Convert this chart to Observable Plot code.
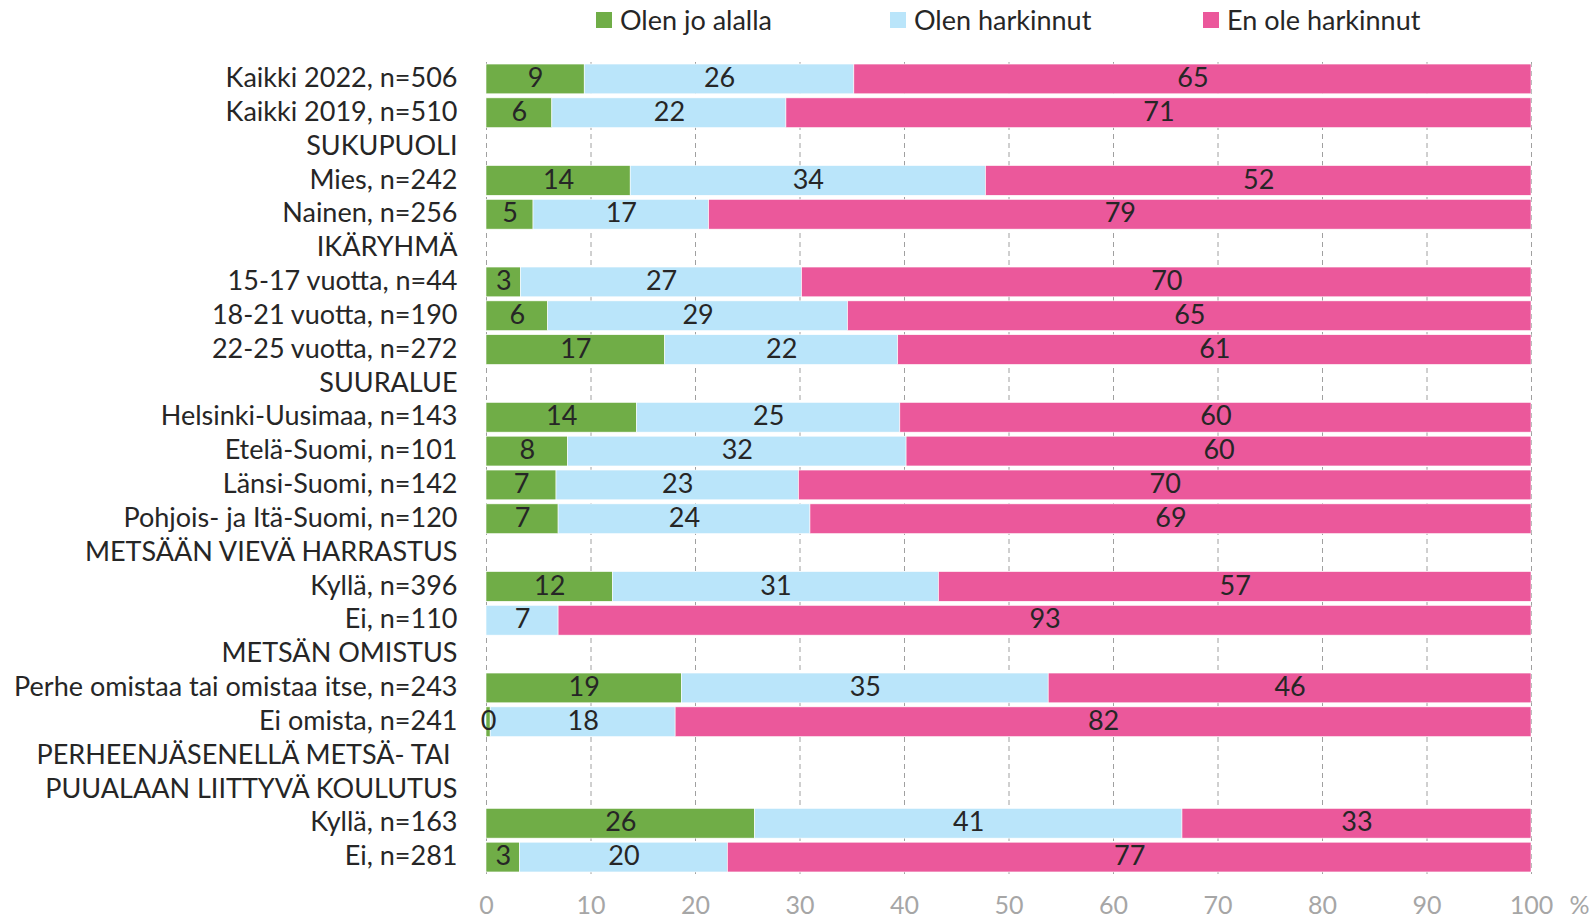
<!DOCTYPE html>
<html>
<head>
<meta charset="utf-8">
<script src="https://cdn.jsdelivr.net/npm/d3@7"></script>
<script src="https://cdn.jsdelivr.net/npm/@observablehq/plot@0.6"></script>
<style>
  html, body { margin: 0; padding: 0; background: #fff; }
  #wrap { position: relative; width: 1591px; height: 920px; font-family: Lato, "Open Sans", sans-serif; }
  #legend { position: absolute; top: 0; left: 0; width: 1591px; height: 40px; }
  .item { position: absolute; top: 5px; display: flex; align-items: center; font-size: 27px; color: #262626; line-height: 30px; }
  .sw { width: 16px; height: 16px; margin-right: 8px; }
  #chart { position: absolute; top: 0; left: 0; }
</style>
</head>
<body>
<div id="wrap">
  <div id="chart"></div>
  <div id="legend"></div>
</div>
<script>
const rows = [
  "Kaikki 2022, n=506",
  "Kaikki 2019, n=510",
  "SUKUPUOLI",
  "Mies, n=242",
  "Nainen, n=256",
  "IKÄRYHMÄ",
  "15-17 vuotta, n=44",
  "18-21 vuotta, n=190",
  "22-25 vuotta, n=272",
  "SUURALUE",
  "Helsinki-Uusimaa, n=143",
  "Etelä-Suomi, n=101",
  "Länsi-Suomi, n=142",
  "Pohjois- ja Itä-Suomi, n=120",
  "METSÄÄN VIEVÄ HARRASTUS",
  "Kyllä, n=396",
  "Ei, n=110",
  "METSÄN OMISTUS",
  "Perhe omistaa tai omistaa itse, n=243",
  "Ei omista, n=241",
  "PERHEENJÄSENELLÄ METSÄ- TAI\u00a0",
  "PUUALAAN LIITTYVÄ KOULUTUS",
  "Kyllä, n=163",
  "Ei, n=281"
];
const seriesNames = ["Olen jo alalla", "Olen harkinnut", "En ole harkinnut"];
const seriesColors = ["#70ad47", "#bae5fa", "#eb589b"];
const olenJoAlalla    = [9.4, 6.3, null, 13.8, 4.5, null, 3.3, 5.9, 17.1, null, 14.4, 7.8, 6.7, 6.9, null, 12.1, 0, null, 18.7, 0.4, null, null, 25.7, 3.2];
const olenHarkinnut   = [25.8, 22.4, null, 34.0, 16.8, null, 26.9, 28.7, 22.3, null, 25.2, 32.4, 23.2, 24.1, null, 31.2, 6.9, null, 35.1, 17.7, null, null, 40.9, 19.9];
const enOleHarkinnut  = [64.8, 71.3, null, 52.2, 78.7, null, 69.8, 65.4, 60.6, null, 60.4, 59.8, 70.1, 69.0, null, 56.7, 93.1, null, 46.2, 81.9, null, null, 33.4, 76.9];
const xTicks = [0, 10, 20, 30, 40, 50, 60, 70, 80, 90, 100];

const seriesValues = [olenJoAlalla, olenHarkinnut, enOleHarkinnut];
const data = [];
rows.forEach((r, i) => {
  seriesValues.forEach((vals, s) => {
    const v = vals[i];
    if (v != null && v > 0) data.push({row: r, series: seriesNames[s], value: v});
  });
});

const font = "Lato, 'Open Sans', sans-serif";

const chart = Plot.plot({
  width: 1591,
  height: 920,
  marginLeft: 486,
  marginRight: 60,
  marginTop: 62,
  marginBottom: 46,
  style: {fontFamily: font, background: "transparent"},
  x: {domain: [0, 100], ticks: xTicks},
  y: {domain: rows, paddingInner: 0.12, paddingOuter: 0.06, round: false},
  color: {domain: seriesNames, range: seriesColors},
  marks: [
    Plot.gridX(xTicks, {stroke: "#a0a0a0", strokeOpacity: 1, strokeDasharray: "5,4", strokeWidth: 1}),
    Plot.barX(data, Plot.stackX({x: "value", y: "row", fill: "series", order: seriesNames, stroke: "#fff", strokeWidth: 0.6})),
    Plot.textX(data, Plot.stackX({x: "value", y: "row", z: "series", order: seriesNames, text: d => String(Math.round(d.value)), fill: "#262626", fontSize: 27, dy: -1})),
    Plot.axisX(xTicks, {tickSize: 0, tickPadding: 22, fontSize: 25, fill: "#a6a6a6", label: null, tickFormat: d => String(d)}),
    Plot.text([xTicks[xTicks.length - 1]], {x: d => d, frameAnchor: "bottom", dy: 31, dx: 48, text: () => "%", fontSize: 25, fill: "#a6a6a6", lineAnchor: "middle"}),
    Plot.axisY({tickSize: 0, tickPadding: 29, fontSize: 27, fill: "#262626", label: null, dy: -1})
  ]
});
document.getElementById("chart").appendChild(chart);

const legendPos = [596, 890, 1203];
const legend = document.getElementById("legend");
seriesNames.forEach((name, i) => {
  const item = document.createElement("div");
  item.className = "item";
  item.style.left = legendPos[i] + "px";
  const sw = document.createElement("div");
  sw.className = "sw";
  sw.style.background = seriesColors[i];
  const t = document.createElement("span");
  t.textContent = name;
  item.appendChild(sw);
  item.appendChild(t);
  legend.appendChild(item);
});
</script>
</body>
</html>
